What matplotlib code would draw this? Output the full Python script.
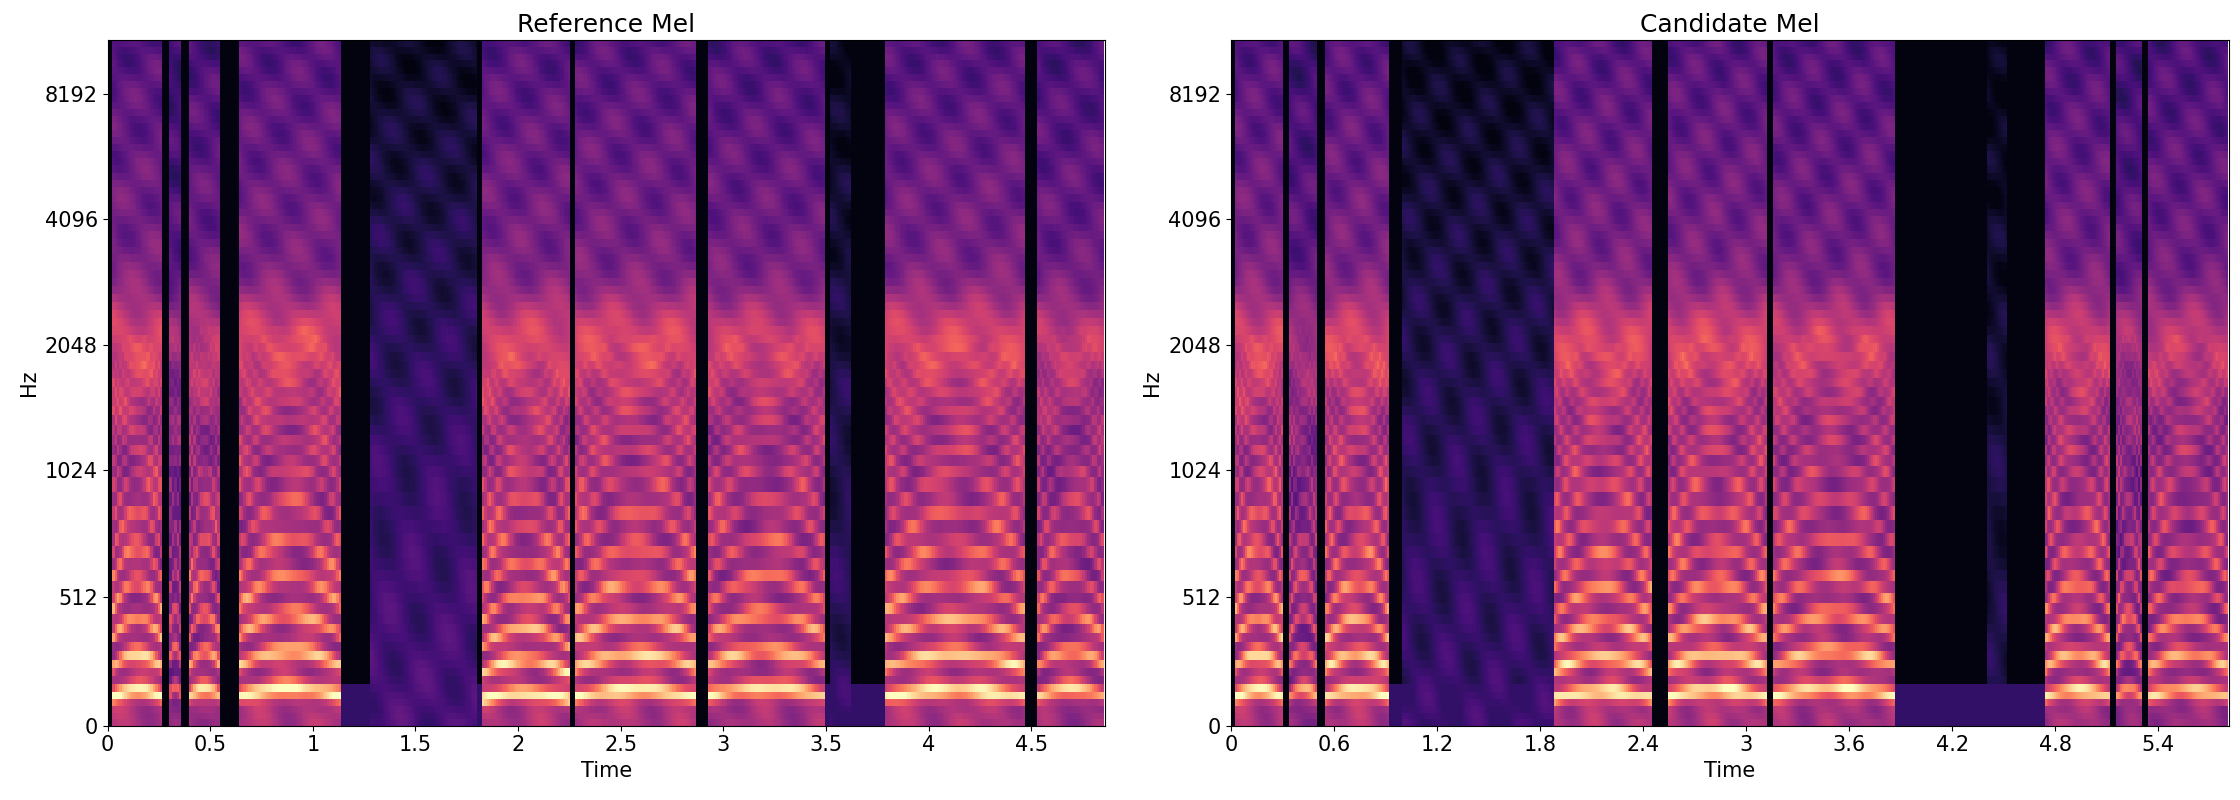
import numpy as np
import matplotlib.pyplot as plt

sr = 22050
hop = 256
n_mels = 80

ref_duration = 4.86
cand_duration = 5.81

# voiced segments: (start s, end s, f0 Hz, loudness)
ref_voiced = [(0.02, 0.27, 115, 1.0), (0.30, 0.36, 125, 0.75), (0.40, 0.55, 120, 0.9),
              (0.64, 1.14, 120, 1.0), (1.82, 2.25, 105, 1.0), (2.28, 2.87, 115, 1.0),
              (2.92, 3.50, 120, 0.95), (3.78, 4.47, 115, 1.0), (4.53, 4.86, 120, 0.9)]
# faint / noisy segments: (start, end, level)
ref_weak = [(1.28, 1.80, 0.24), (3.52, 3.62, 0.18)]
# low hum between words: (start, end)
ref_hum = [(1.14, 1.82), (3.50, 3.78)]

cand_voiced = [(0.02, 0.30, 115, 1.0), (0.34, 0.50, 120, 0.8), (0.55, 0.92, 115, 1.0),
               (1.88, 2.45, 110, 1.0), (2.54, 3.12, 115, 1.0), (3.16, 3.87, 120, 0.95),
               (4.74, 5.12, 115, 0.95), (5.16, 5.30, 120, 0.8), (5.34, 5.81, 115, 0.9)]
cand_weak = [(1.00, 1.88, 0.2), (4.40, 4.52, 0.14)]
cand_hum = [(0.92, 1.88), (3.87, 4.74)]


def hz_to_mel(f):
    return 2595 * np.log10(1 + f / 700.0)


def mel_to_hz(m):
    return 700 * (10 ** (m / 2595.0) - 1)


mel_edges = np.linspace(0, hz_to_mel(sr / 2), n_mels + 1)
hz_edges = mel_to_hz(mel_edges)
hz_centers = 0.5 * (hz_edges[:-1] + hz_edges[1:])


def build(duration, voiced, weak, hum):
    n_frames = int(duration * sr / hop)
    t_edges = np.arange(n_frames + 1) * hop / sr
    t = 0.5 * (t_edges[:-1] + t_edges[1:])
    T, F = np.meshgrid(t, hz_centers)
    S = np.full(T.shape, 0.03)
    pos = np.log2(1 + F / 1000.0) / np.log2(1 + sr / 2 / 1000.0)
    texture = 0.08 * np.sin(T * 23 + pos * 9) * np.sin(pos * 47 + T * 5)
    for start, end, level in weak:
        m = (T >= start) & (T < end)
        val = level * (1.0 - 0.7 * pos) + 0.8 * texture
        S[m] = np.maximum(S[m], val[m])
    for start, end in hum:
        m = (T >= start) & (T < end) & (F < 160)
        S[m] = np.maximum(S[m], 0.18)
    for start, end, f0, loud in voiced:
        m = (T >= start) & (T < end)
        f0_t = f0 * (1 + 0.25 * np.sin((T - start) / (end - start) * np.pi))
        harm = np.zeros_like(F)
        for k in range(1, 16):
            harm = np.maximum(harm, np.exp(-((F - k * f0_t) / (0.22 * f0_t)) ** 2))
        base = 0.48 - 0.22 * pos
        form = 0.2 * np.exp(-((F - 2100) / 600.0) ** 2)
        val = loud * (base + 0.62 * harm * np.exp(-F / 800.0) + form) + texture
        S[m] = np.maximum(S[m], val[m])
    return t_edges, np.clip(S, 0, 1)


fig, axes = plt.subplots(1, 2, figsize=(22.4, 8), dpi=100)
fig.subplots_adjust(left=0.048, right=0.995, top=0.95, bottom=0.093, wspace=0.126)

panels = [("Reference Mel", ref_duration, ref_voiced, ref_weak, ref_hum, [0, 0.5, 1, 1.5, 2, 2.5, 3, 3.5, 4, 4.5]),
          ("Candidate Mel", cand_duration, cand_voiced, cand_weak, cand_hum, [0, 0.6, 1.2, 1.8, 2.4, 3, 3.6, 4.2, 4.8, 5.4])]

for ax, (title, dur, voiced, weak, hum, xt) in zip(axes, panels):
    t_edges, S = build(dur, voiced, weak, hum)
    ax.pcolormesh(t_edges, hz_edges, S, cmap='magma', vmin=0, vmax=1, shading='flat')
    ax.set_yscale('symlog', base=2, linthresh=1000)
    ax.set_ylim(0, sr / 2)
    ax.set_xlim(0, dur)
    ax.set_yticks([0, 512, 1024, 2048, 4096, 8192])
    ax.set_yticklabels(['0', '512', '1024', '2048', '4096', '8192'])
    ax.yaxis.set_minor_locator(plt.NullLocator())
    ax.set_xticks(xt)
    ax.set_xticklabels([f'{v:g}' for v in xt])
    ax.tick_params(labelsize=15)
    ax.set_xlabel('Time', fontsize=15)
    ax.set_ylabel('Hz', fontsize=15)
    ax.set_title(title, fontsize=18)

fig.savefig('out.png')
